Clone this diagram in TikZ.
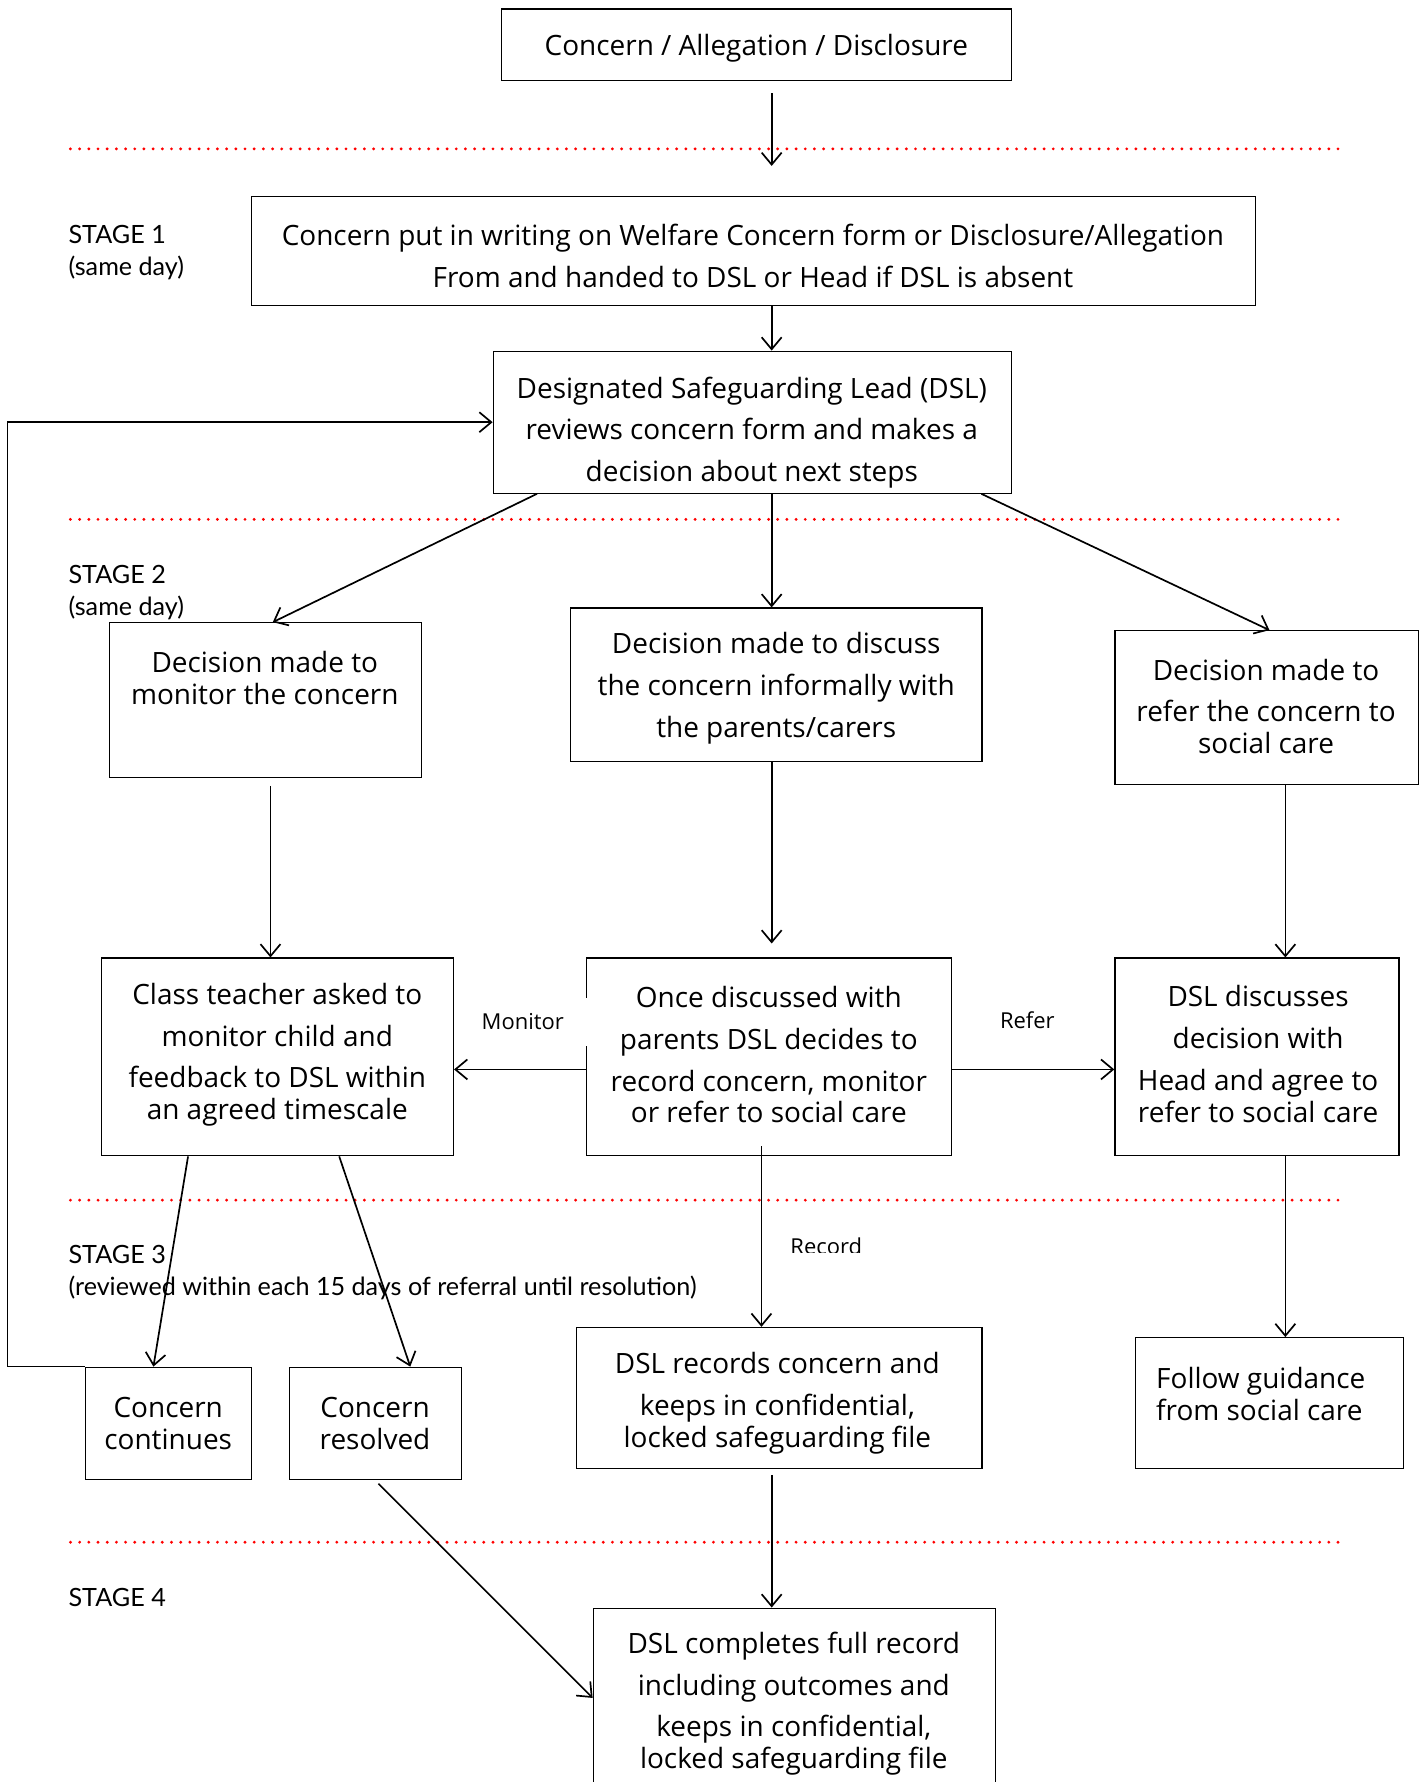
\documentclass[tikz,border=0pt]{standalone}
\usepackage{fontspec}
\setmainfont{Open Sans}
\newfontfamily\stagefont{Lato}
\usetikzlibrary{arrows.meta, calc, fit}

\begin{document}
\begin{tikzpicture}[x=0.02cm, y=-0.02cm,
    box/.style={draw, line width=0.6pt, inner sep=0pt},
    txt/.style={align=center, inner sep=0pt, font=\fontsize{14}{15.9}\selectfont},
    stage/.style={align=left, anchor=west, inner sep=0pt, font=\stagefont\fontsize{12.6}{15.9}\selectfont},
    lbl/.style={inner sep=0pt, font=\fontsize{11}{13}\selectfont},
    arr/.style={line width=0.85pt, -{Straight Barb[length=6pt, width=10pt]}},
    sep/.style={red, line width=1.6pt, line cap=round, dash pattern=on 0pt off 4.6pt}]

\useasboundingbox (0,0) rectangle (1254,1568);

% stage separators
\foreach \y in {131, 457, 1056, 1357}
  \draw[sep] (62,\y) -- (1185,\y);

% stage labels
\node[stage] (st1) at (60,222) {STAGE 1\\(same day)};
\node[stage] (st2) at (60,521.5) {STAGE 2\\(same day)};
\node[stage] (st3) at (60,1120) {STAGE 3\\(reviewed within each 15 days of referral until resolution)};
\node[stage] (st4) at (60,1406) {STAGE 4};

% boxes
\node[box, fit={(441,8) (890,71)}] (top) {};
\node[box, fit={(221,173) (1105,269)}] (form) {};
\node[box, fit={(434,309) (890,434)}] (dsl) {};
\node[box, fit={(96,548) (371,684)}] (mon) {};
\node[box, fit={(502,535) (864,670)}] (disc) {};
\node[box, fit={(981,555) (1248,690)}] (ref) {};
\node[box, fit={(89,843) (399,1017)}] (cls) {};
\node[box, fit={(516,843) (837,1017)}] (once) {};
\node[box, fit={(981,843) (1231,1017)}] (dsc) {};
\node[box, fit={(75,1203) (221,1302)}] (cont) {};
\node[box, fit={(255,1203) (406,1302)}] (res) {};
\node[box, fit={(507,1168) (864,1292)}] (rec) {};
\node[box, fit={(999,1177) (1235,1292)}] (fol) {};
\node[box, fit={(522,1415) (876,1573)}] (fin) {};

% box texts
\node[txt] (top-t) at (665.5,42.5) {Concern / Allegation / Disclosure};
\node[txt] (form-t) at (662.5,225) {Concern put in writing on Welfare Concern form or Disclosure/Allegation\\[5pt]From and handed to DSL or Head if DSL is absent};
\node[txt] (dsl-t) at (661.5,380.5) {Designated Safeguarding Lead (DSL)\\[5pt]reviews concern form and makes a\\[5pt]decision about next steps};
\node[txt] (mon-t) at (233,596.5) {Decision made to\\monitor the concern};
\node[txt] (disc-t) at (683,605.5) {Decision made to discuss\\[5pt]the concern informally with\\[5pt]the parents/carers};
\node[txt] (ref-t) at (1114,621.5) {Decision made to\\[5pt]refer the concern to\\social care};
\node[txt] (cls-t) at (244,928) {Class teacher asked to\\[5pt]monitor child and\\[5pt]feedback to DSL within\\an agreed timescale};
\node[txt] (once-t) at (676.5,928) {Once discussed with\\[5pt]parents DSL decides to\\[5pt]record concern, monitor\\or refer to social care};
\node[txt] (dsc-t) at (1107,927.5) {DSL discusses\\[5pt]decision with\\[5pt]Head and agree to\\refer to social care};
\node[txt] (cont-t) at (148,1252.5) {Concern\\continues};
\node[txt] (res-t) at (330,1252.5) {Concern\\resolved};
\node[txt] (rec-t) at (684,1234.5) {DSL records concern and\\[5pt]keeps in confidential,\\locked safeguarding file};
\node[txt, align=left, anchor=west] (fol-t) at (1017,1226.5) {Follow guidance\\from social care};
\node[txt] (fin-t) at (698.5,1499) {DSL completes full record\\[5pt]including outcomes and\\[5pt]keeps in confidential,\\locked safeguarding file};

% connector labels
\node[lbl, fill=white, anchor=west, inner xsep=2pt, text width=53pt, align=left, minimum height=24pt] (mon-lbl) at (420,899) {Monitor};
\node[lbl] (ref-lbl) at (904,898) {Refer};
\begin{scope}
  \clip (650,1070) rectangle (800,1102);
  \node[lbl] (rec-lbl) at (727,1097) {Record};
\end{scope}

% columns for the straight arrows
\coordinate (colA) at (238,0);
\coordinate (colR) at (670,0);
\coordinate (mid) at (679,0);
\coordinate (colC) at (1131,0);
\coordinate (rowB) at (0,941);
\coordinate (a1end) at (679,146);

% arrows
\draw[arr, shorten <=6pt] (top.south -| mid) -- (a1end);
\draw[arr] (form.south -| mid) -- (dsl.north -| mid);
\draw[arr] ($(dsl.south west)+(39,0)$) -- ($(mon.north)+(6.5,0)$);
\draw[arr] (dsl.south -| mid) -- (disc.north -| mid);
\draw[arr] ($(dsl.south east)+(-27,0)$) -- ($(ref.north)+(2.5,0)$);
\draw[arr, shorten <=4pt] (mon.south -| colA) -- (cls.north -| colA);
\draw[arr, shorten >=7pt] (disc.south -| mid) -- (once.north -| mid);
\draw[arr] (ref.south -| colC) -- (dsc.north -| colC);
\draw[arr] (once.west |- rowB) -- (cls.east |- rowB);
\draw[arr] (once.east |- rowB) -- (dsc.west |- rowB);
\draw[arr] ($(cls.south west)+(77,0)$) -- ($(cont.north)+(-13,0)$);
\draw[arr] ($(cls.south west)+(210,0)$) -- ($(res.north)+(30.5,0)$);
\draw[arr, shorten <=-5pt] (once.south -| colR) -- (rec.north -| colR);
\draw[arr] (dsc.south -| colC) -- (fol.north -| colC);
\draw[arr] (cont.north west) -- ++(-68,0) |- (dsl.west);
\draw[arr] ($(res.south)+(2.5,3)$) -- (fin.west);
\draw[arr, shorten <=3pt] (rec.south -| mid) -- (fin.north -| mid);
\end{tikzpicture}
\end{document}
